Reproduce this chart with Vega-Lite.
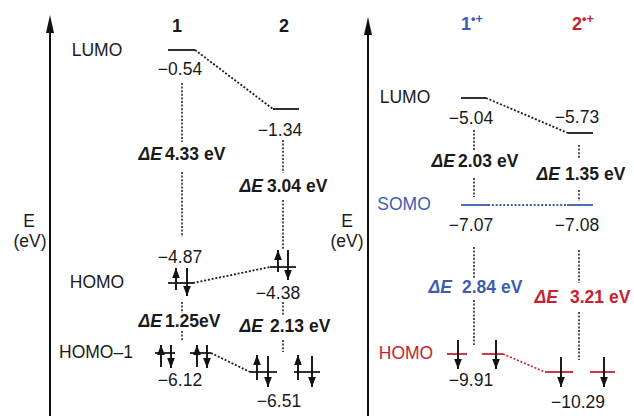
{
  "$schema": "https://vega.github.io/schema/vega-lite/v6.json",
  "width": 634,
  "height": 416,
  "padding": 0,
  "autosize": {"type": "none"},
  "background": "white",
  "config": {"view": {"stroke": null}, "text": {"font": "Liberation Sans"}},
  "datasets": {
    "axes": [
      {"x": 50, "tip": 15, "neck": 26, "end": 416},
      {"x": 368, "tip": 17, "neck": 28, "end": 416}
    ],
    "levels": [
      {"x": 168, "x2": 195, "y": 50, "g": "k"},
      {"x": 273, "x2": 299, "y": 109, "g": "k"},
      {"x": 168, "x2": 193, "y": 283, "g": "k"},
      {"x": 270, "x2": 296, "y": 267, "g": "k"},
      {"x": 155, "x2": 175, "y": 353, "g": "k"},
      {"x": 190, "x2": 211, "y": 353, "g": "k"},
      {"x": 250, "x2": 277, "y": 372, "g": "k"},
      {"x": 294, "x2": 320, "y": 372, "g": "k"},
      {"x": 461, "x2": 486, "y": 98, "g": "k"},
      {"x": 568, "x2": 593, "y": 133, "g": "k"},
      {"x": 461, "x2": 488, "y": 205, "g": "b"},
      {"x": 567, "x2": 593, "y": 205, "g": "b"},
      {"x": 447, "x2": 467, "y": 354, "g": "r"},
      {"x": 482, "x2": 503, "y": 354, "g": "r"},
      {"x": 545, "x2": 573, "y": 372, "g": "r"},
      {"x": 590, "x2": 615, "y": 372, "g": "r"}
    ],
    "links": [
      {"x": 195, "y": 50, "x2": 273, "y2": 109, "g": "k"},
      {"x": 193, "y": 283, "x2": 270, "y2": 267, "g": "k"},
      {"x": 211, "y": 353, "x2": 250, "y2": 372, "g": "k"},
      {"x": 486, "y": 98, "x2": 568, "y2": 133, "g": "k"},
      {"x": 488, "y": 205, "x2": 567, "y2": 205, "g": "b"},
      {"x": 503, "y": 354, "x2": 545, "y2": 372, "g": "r"}
    ],
    "gaps": [
      {"x": 182, "y": 83, "y2": 142},
      {"x": 182, "y": 172, "y2": 237},
      {"x": 283, "y": 140, "y2": 173},
      {"x": 283, "y": 200, "y2": 250},
      {"x": 182, "y": 302, "y2": 313},
      {"x": 182, "y": 331, "y2": 340},
      {"x": 283, "y": 302, "y2": 315},
      {"x": 283, "y": 340, "y2": 352},
      {"x": 474, "y": 130, "y2": 150},
      {"x": 474, "y": 178, "y2": 197},
      {"x": 579, "y": 145, "y2": 158},
      {"x": 579, "y": 190, "y2": 201},
      {"x": 474, "y": 247, "y2": 278},
      {"x": 474, "y": 300, "y2": 345},
      {"x": 579, "y": 250, "y2": 283},
      {"x": 579, "y": 312, "y2": 360}
    ],
    "spins": [
      {"x": 176, "y": 268, "y2": 290, "dir": "up", "g": "k"},
      {"x": 187, "y": 268, "y2": 296, "dir": "down", "g": "k"},
      {"x": 278, "y": 250, "y2": 272, "dir": "up", "g": "k"},
      {"x": 288, "y": 250, "y2": 280, "dir": "down", "g": "k"},
      {"x": 161, "y": 345, "y2": 367, "dir": "up", "g": "k"},
      {"x": 171, "y": 345, "y2": 368, "dir": "down", "g": "k"},
      {"x": 197, "y": 345, "y2": 367, "dir": "up", "g": "k"},
      {"x": 207, "y": 345, "y2": 368, "dir": "down", "g": "k"},
      {"x": 257, "y": 355, "y2": 380, "dir": "up", "g": "k"},
      {"x": 268, "y": 356, "y2": 387, "dir": "down", "g": "k"},
      {"x": 298, "y": 355, "y2": 380, "dir": "up", "g": "k"},
      {"x": 312, "y": 356, "y2": 387, "dir": "down", "g": "k"},
      {"x": 458, "y": 340, "y2": 369, "dir": "down", "g": "k"},
      {"x": 496, "y": 340, "y2": 369, "dir": "down", "g": "k"},
      {"x": 561, "y": 357, "y2": 387, "dir": "down", "g": "k"},
      {"x": 604, "y": 357, "y2": 387, "dir": "down", "g": "k"}
    ],
    "labels": [
      {"t": "1", "x": 177, "y": 27, "kind": "title", "g": "k"},
      {"t": "2", "x": 284, "y": 27, "kind": "title", "g": "k"},
      {"t": "1", "x": 466, "y": 25, "kind": "title", "g": "b"},
      {"t": "2", "x": 577, "y": 25, "kind": "title", "g": "r"},
      {"t": "•+", "x": 471, "y": 19, "kind": "sup", "g": "b"},
      {"t": "•+", "x": 582, "y": 19, "kind": "sup", "g": "r"},
      {"t": "LUMO", "x": 97, "y": 51, "kind": "state", "g": "k"},
      {"t": "HOMO", "x": 97, "y": 283, "kind": "state", "g": "k"},
      {"t": "HOMO–1", "x": 96, "y": 353, "kind": "state", "g": "k"},
      {"t": "LUMO", "x": 405, "y": 98, "kind": "state", "g": "k"},
      {"t": "SOMO", "x": 404, "y": 205, "kind": "state", "g": "b"},
      {"t": "HOMO", "x": 406, "y": 354, "kind": "state", "g": "r"},
      {"t": "−0.54", "x": 180, "y": 70, "kind": "value", "g": "k"},
      {"t": "−1.34", "x": 280, "y": 131, "kind": "value", "g": "k"},
      {"t": "−4.87", "x": 180, "y": 258, "kind": "value", "g": "k"},
      {"t": "−4.38", "x": 278, "y": 294, "kind": "value", "g": "k"},
      {"t": "−6.12", "x": 180, "y": 381, "kind": "value", "g": "k"},
      {"t": "−6.51", "x": 279, "y": 402, "kind": "value", "g": "k"},
      {"t": "−5.04", "x": 471, "y": 119, "kind": "value", "g": "k"},
      {"t": "−5.73", "x": 577, "y": 118, "kind": "value", "g": "k"},
      {"t": "−7.07", "x": 471, "y": 226, "kind": "value", "g": "k"},
      {"t": "−7.08", "x": 577, "y": 226, "kind": "value", "g": "k"},
      {"t": "−9.91", "x": 471, "y": 381, "kind": "value", "g": "k"},
      {"t": "−10.29", "x": 578, "y": 403, "kind": "value", "g": "k"},
      {"t": "E", "x": 29, "y": 222, "kind": "value", "g": "k"},
      {"t": "(eV)", "x": 30, "y": 242, "kind": "value", "g": "k"},
      {"t": "E", "x": 347, "y": 222, "kind": "value", "g": "k"},
      {"t": "(eV)", "x": 347, "y": 242, "kind": "value", "g": "k"},
      {"t": "ΔE", "x": 162, "y": 155, "kind": "sym", "g": "k"},
      {"t": "ΔE", "x": 263, "y": 187, "kind": "sym", "g": "k"},
      {"t": "ΔE", "x": 162, "y": 322, "kind": "sym", "g": "k"},
      {"t": "ΔE", "x": 263, "y": 327, "kind": "sym", "g": "k"},
      {"t": "ΔE", "x": 455, "y": 162, "kind": "sym", "g": "k"},
      {"t": "ΔE", "x": 560, "y": 175, "kind": "sym", "g": "k"},
      {"t": "ΔE", "x": 452, "y": 288, "kind": "sym", "g": "b"},
      {"t": "ΔE", "x": 558, "y": 298, "kind": "sym", "g": "r"},
      {"t": "4.33 eV", "x": 165, "y": 155, "kind": "gap", "g": "k"},
      {"t": "3.04 eV", "x": 267, "y": 187, "kind": "gap", "g": "k"},
      {"t": "1.25eV", "x": 165, "y": 322, "kind": "gap", "g": "k"},
      {"t": "2.13 eV", "x": 270, "y": 327, "kind": "gap", "g": "k"},
      {"t": "2.03 eV", "x": 458, "y": 162, "kind": "gap", "g": "k"},
      {"t": "1.35 eV", "x": 565, "y": 175, "kind": "gap", "g": "k"},
      {"t": "2.84 eV", "x": 462, "y": 288, "kind": "gap", "g": "b"},
      {"t": "3.21 eV", "x": 570, "y": 298, "kind": "gap", "g": "r"}
    ]
  },
  "layer": [
    {
      "data": {"name": "axes"},
      "mark": {"type": "rule", "strokeWidth": 2, "color": "#111111"},
      "encoding": {
        "x": {"field": "x", "type": "quantitative", "scale": {"domain": [0, 634], "nice": false, "zero": false}, "axis": null},
        "y": {"field": "neck", "type": "quantitative", "scale": {"domain": [0, 416], "nice": false, "zero": false, "reverse": true}, "axis": null},
        "y2": {"field": "end"}
      }
    },
    {
      "data": {"name": "axes"},
      "mark": {"type": "point", "shape": "M0,0L0.4,1.8L-0.4,1.8Z", "size": 400, "filled": true, "opacity": 1, "color": "#111111", "strokeWidth": 0},
      "encoding": {
        "x": {"field": "x", "type": "quantitative"},
        "y": {"field": "tip", "type": "quantitative"}
      }
    },
    {
      "data": {"name": "gaps"},
      "mark": {"type": "rule", "strokeWidth": 1.5, "strokeDash": [2, 1.6], "color": "#1a1a1a"},
      "encoding": {
        "x": {"field": "x", "type": "quantitative"},
        "y": {"field": "y", "type": "quantitative"},
        "y2": {"field": "y2"}
      }
    },
    {
      "data": {"name": "links"},
      "mark": {"type": "rule", "strokeWidth": 1.8, "strokeDash": [2, 1.8]},
      "encoding": {
        "x": {"field": "x", "type": "quantitative"},
        "y": {"field": "y", "type": "quantitative"},
        "x2": {"field": "x2"},
        "y2": {"field": "y2"},
        "color": {"field": "g", "type": "nominal", "scale": {"domain": ["k", "b", "r"], "range": ["#1a1a1a", "#3d5db3", "#c8202f"]}, "legend": null}
      }
    },
    {
      "data": {"name": "levels"},
      "mark": {"type": "rule", "strokeWidth": 1.8},
      "encoding": {
        "x": {"field": "x", "type": "quantitative"},
        "x2": {"field": "x2"},
        "y": {"field": "y", "type": "quantitative"},
        "color": {"field": "g", "type": "nominal", "legend": null}
      }
    },
    {
      "data": {"name": "spins"},
      "mark": {"type": "rule", "strokeWidth": 1.9, "color": "#111111"},
      "encoding": {
        "x": {"field": "x", "type": "quantitative"},
        "y": {"field": "y", "type": "quantitative"},
        "y2": {"field": "y2"}
      }
    },
    {
      "data": {"name": "spins"},
      "transform": [{"filter": "datum.dir === 'up'"}],
      "mark": {"type": "point", "shape": "M0,0L0.7,1.8L-0.7,1.8Z", "size": 121, "filled": true, "opacity": 1, "color": "#111111", "strokeWidth": 0},
      "encoding": {
        "x": {"field": "x", "type": "quantitative"},
        "y": {"field": "y", "type": "quantitative"}
      }
    },
    {
      "data": {"name": "spins"},
      "transform": [{"filter": "datum.dir === 'down'"}],
      "mark": {"type": "point", "shape": "M0,0L0.7,-1.8L-0.7,-1.8Z", "size": 121, "filled": true, "opacity": 1, "color": "#111111", "strokeWidth": 0},
      "encoding": {
        "x": {"field": "x", "type": "quantitative"},
        "y": {"field": "y2", "type": "quantitative"}
      }
    },
    {
      "data": {"name": "labels"},
      "transform": [{"filter": "datum.kind === 'title'"}],
      "mark": {"type": "text", "fontSize": 18, "fontWeight": "bold", "align": "center", "baseline": "middle"},
      "encoding": {
        "x": {"field": "x", "type": "quantitative"},
        "y": {"field": "y", "type": "quantitative"},
        "text": {"field": "t"},
        "color": {"field": "g", "type": "nominal", "legend": null}
      }
    },
    {
      "data": {"name": "labels"},
      "transform": [{"filter": "datum.kind === 'sup'"}],
      "mark": {"type": "text", "fontSize": 12.5, "fontWeight": "bold", "align": "left", "baseline": "middle"},
      "encoding": {
        "x": {"field": "x", "type": "quantitative"},
        "y": {"field": "y", "type": "quantitative"},
        "text": {"field": "t"},
        "color": {"field": "g", "type": "nominal", "legend": null}
      }
    },
    {
      "data": {"name": "labels"},
      "transform": [{"filter": "datum.kind === 'state' || datum.kind === 'value'"}],
      "mark": {"type": "text", "fontSize": 17.5, "align": "center", "baseline": "middle"},
      "encoding": {
        "x": {"field": "x", "type": "quantitative"},
        "y": {"field": "y", "type": "quantitative"},
        "text": {"field": "t"},
        "color": {"field": "g", "type": "nominal", "legend": null}
      }
    },
    {
      "data": {"name": "labels"},
      "transform": [{"filter": "datum.kind === 'sym'"}],
      "mark": {"type": "text", "fontSize": 17.5, "fontWeight": "bold", "fontStyle": "italic", "align": "right", "baseline": "middle"},
      "encoding": {
        "x": {"field": "x", "type": "quantitative"},
        "y": {"field": "y", "type": "quantitative"},
        "text": {"field": "t"},
        "color": {"field": "g", "type": "nominal", "legend": null}
      }
    },
    {
      "data": {"name": "labels"},
      "transform": [{"filter": "datum.kind === 'gap'"}],
      "mark": {"type": "text", "fontSize": 17.5, "fontWeight": "bold", "align": "left", "baseline": "middle"},
      "encoding": {
        "x": {"field": "x", "type": "quantitative"},
        "y": {"field": "y", "type": "quantitative"},
        "text": {"field": "t"},
        "color": {"field": "g", "type": "nominal", "legend": null}
      }
    }
  ]
}
